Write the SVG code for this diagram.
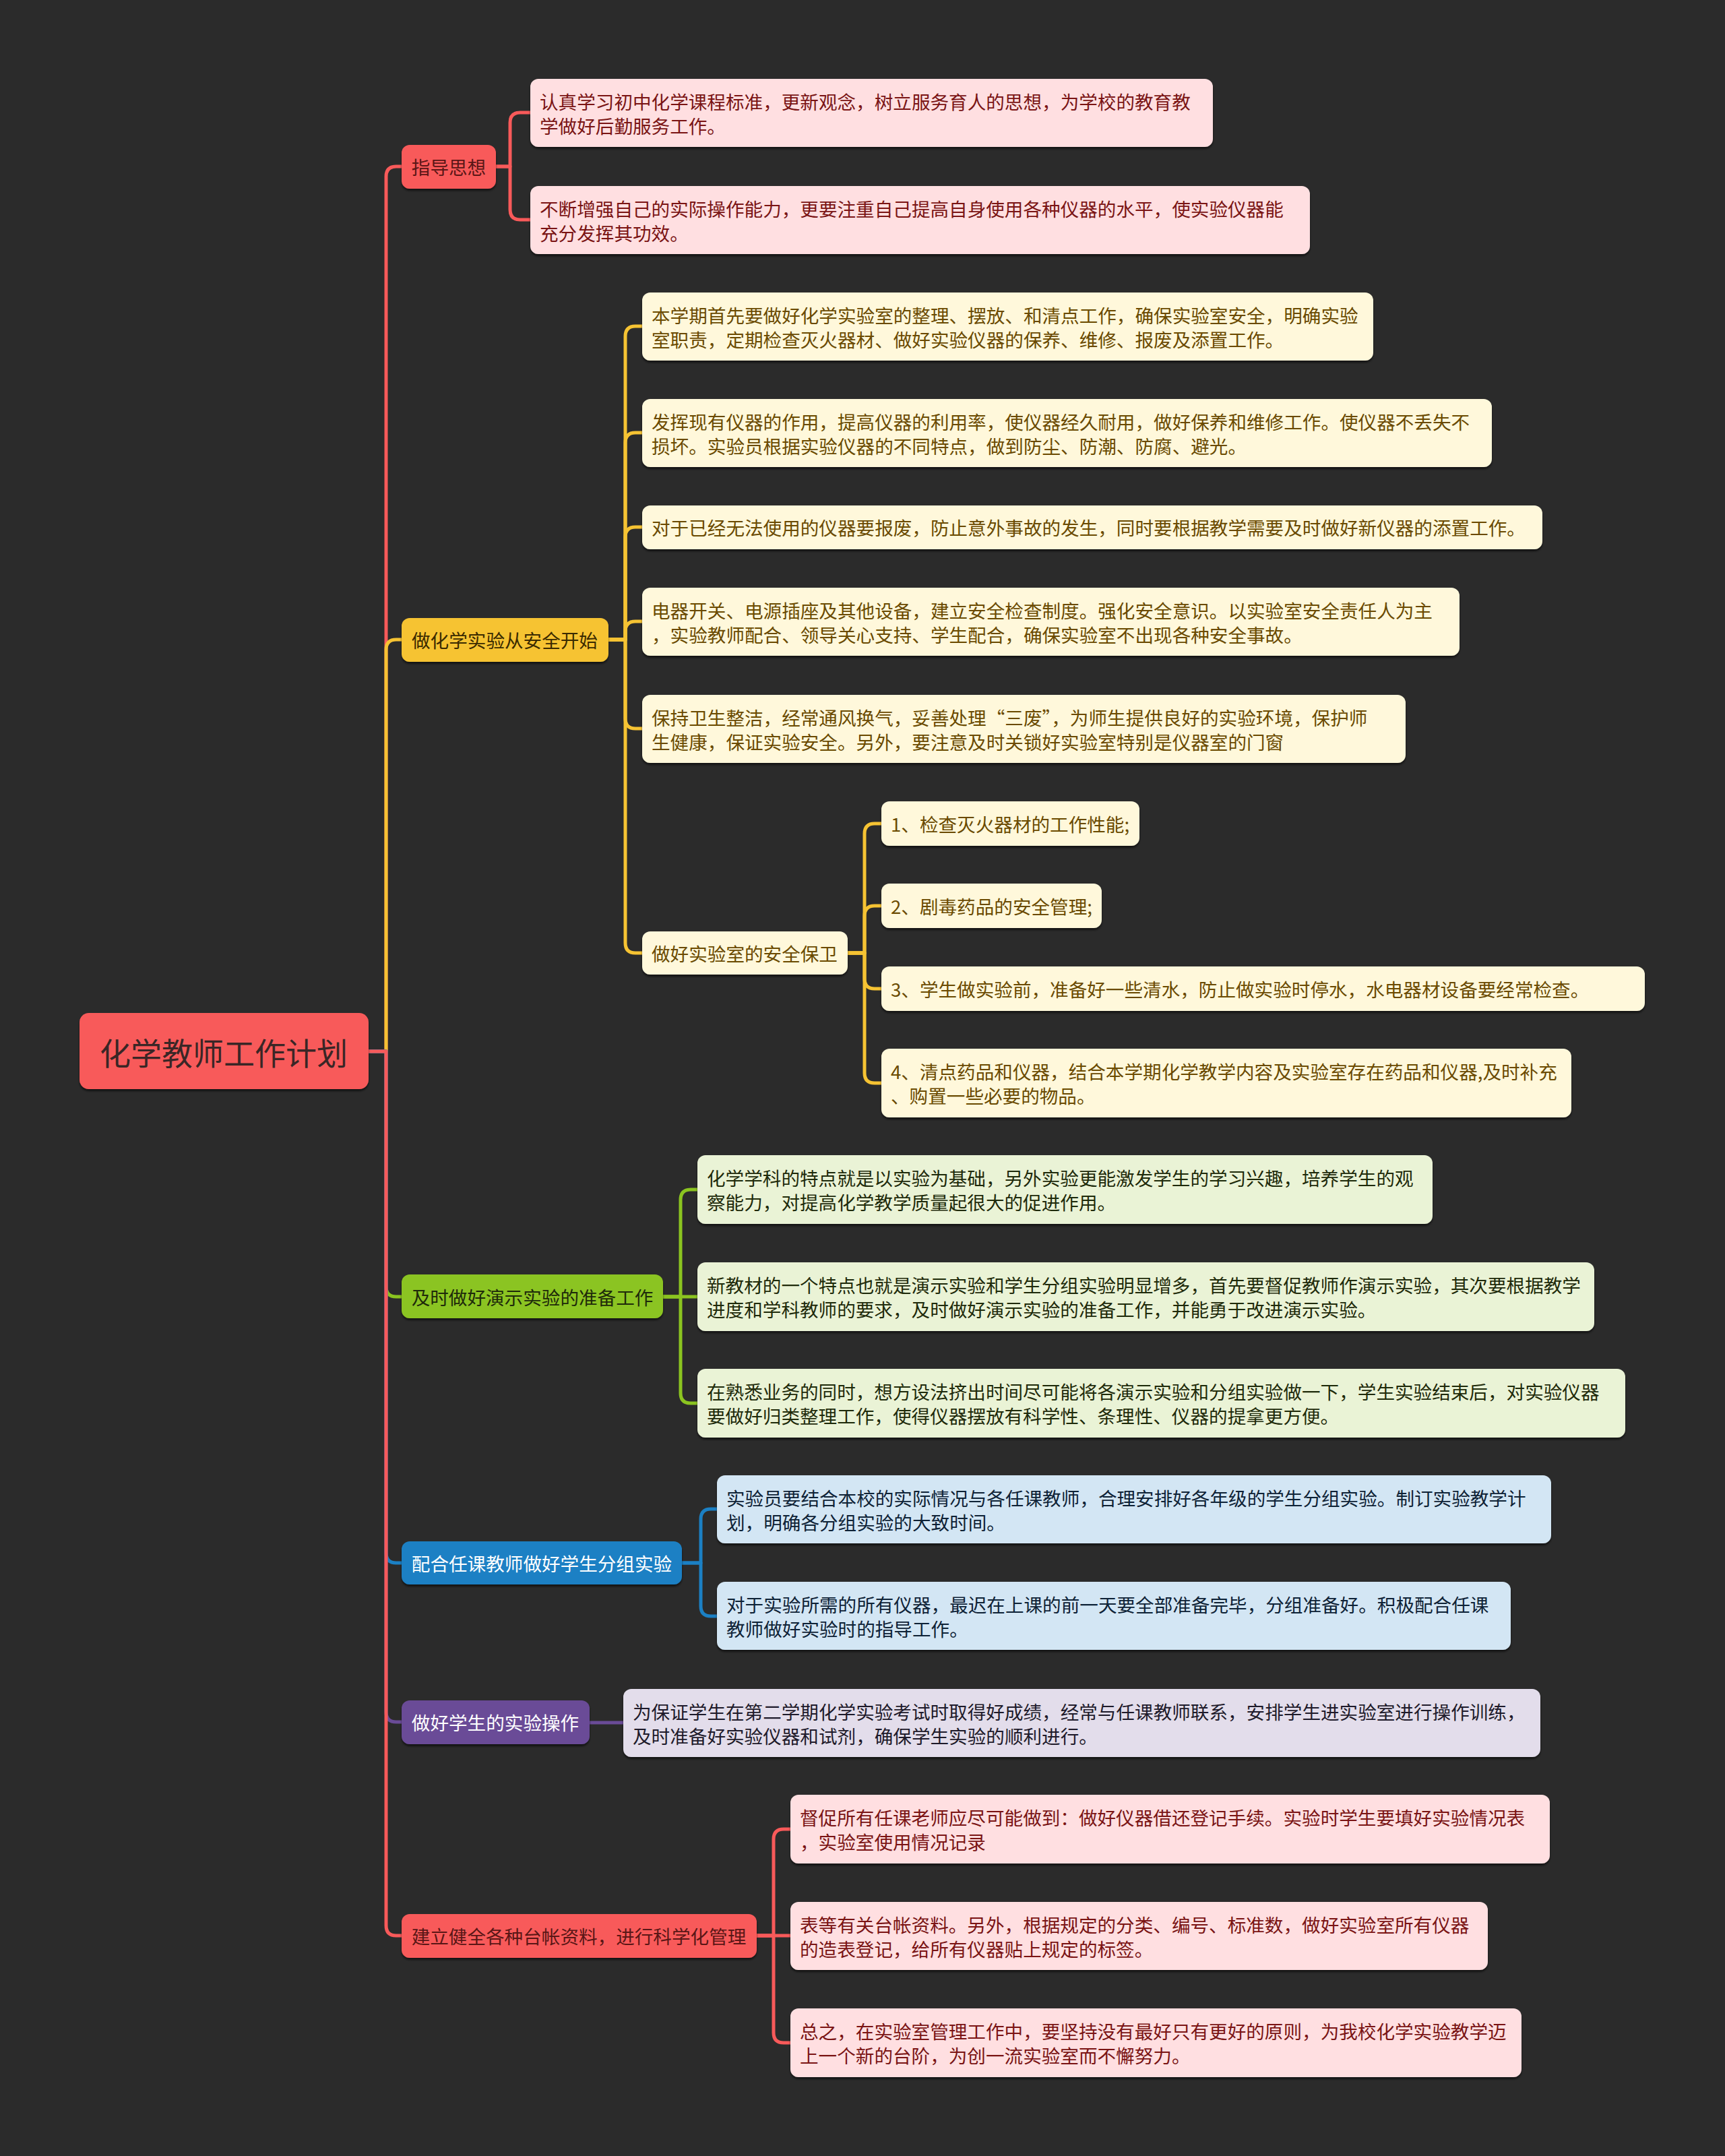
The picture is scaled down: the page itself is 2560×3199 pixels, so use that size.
<svg xmlns="http://www.w3.org/2000/svg" width="2560" height="3199" viewBox="0 0 2560 3199">
<defs>
<style>
text{font-family:"Noto Sans CJK SC","Noto Sans",sans-serif;dominant-baseline:central}
.t{font-size:27.6px}
.rt{font-size:46px;fill:#3a2626}
.l1{font-size:27.6px;text-anchor:middle}
.box{filter:url(#sh)}
.cn{fill:none;stroke-width:5;stroke-linecap:round;stroke-linejoin:round}
.red{stroke:#F85A5A}.yel{stroke:#F6C333}.grn{stroke:#8BC420}.blu{stroke:#1B80C4}.pur{stroke:#6A4B97}
.rF{fill:#F85A5A}.yF{fill:#F6C333}.gF{fill:#8BC420}.bF{fill:#1B80C4}.pF{fill:#6A4B97}
.rC{fill:#FFDFE1}.yC{fill:#FFF8DB}.gC{fill:#EAF3D6}.bC{fill:#D3E6F4}.pC{fill:#E3DDEB}
.rT{fill:#7A1414}.yT{fill:#6A4A00}.gT{fill:#1E2A0A}.bT{fill:#0E2236}.pT{fill:#1E1A2A}
.l1r{fill:#5A1616}.l1y{fill:#3A2A00}.l1g{fill:#1E2A0A}.l1w{fill:#FFFFFF}
</style>
<filter id="sh" x="-5%" y="-10%" width="110%" height="130%">
<feDropShadow dx="0" dy="3" stdDeviation="1.5" flood-color="#000" flood-opacity="0.55"/>
</filter>
</defs>
<rect width="2560" height="3199" fill="#2B2B2B"/>

<g id="connectors">
<path class="cn red" d="M547,1560 H573 V262 Q573,247 588,247 H597"/>
<path class="cn yel" d="M547,1560 H573 V964 Q573,949 588,949 H597"/>
<path class="cn grn" d="M547,1560 H573 V1909 Q573,1924 588,1924 H597"/>
<path class="cn blu" d="M547,1560 H573 V2304 Q573,2319 588,2319 H597"/>
<path class="cn pur" d="M547,1560 H573 V2540 Q573,2555 588,2555 H597"/>
<path class="cn red" d="M547,1560 H573 V2857 Q573,2872 588,2872 H597"/>
<path class="cn red" d="M736,247 H757 V182 Q757,167 772,167 H788"/>
<path class="cn red" d="M736,247 H757 V311 Q757,326 772,326 H788"/>
<path class="cn yel" d="M903,949 H928 V499 Q928,484 943,484 H954"/>
<path class="cn yel" d="M903,949 H928 V657 Q928,642 943,642 H954"/>
<path class="cn yel" d="M903,949 H928 V797 Q928,782 943,782 H954"/>
<path class="cn yel" d="M903,949 H928 V937 Q928,922 943,922 H954"/>
<path class="cn yel" d="M903,949 H928 V1066 Q928,1081 943,1081 H954"/>
<path class="cn yel" d="M903,949 H928 V1399 Q928,1414 943,1414 H954"/>
<path class="cn yel" d="M1258,1414 H1283 V1237 Q1283,1222 1298,1222 H1309"/>
<path class="cn yel" d="M1258,1414 H1283 V1359 Q1283,1344 1298,1344 H1309"/>
<path class="cn yel" d="M1258,1414 H1283 V1452 Q1283,1467 1298,1467 H1309"/>
<path class="cn yel" d="M1258,1414 H1283 V1592 Q1283,1607 1298,1607 H1309"/>
<path class="cn grn" d="M984,1924 H1010 V1780 Q1010,1765 1025,1765 H1036"/>
<path class="cn grn" d="M984,1924 H1036"/>
<path class="cn grn" d="M984,1924 H1010 V2067 Q1010,2082 1025,2082 H1036"/>
<path class="cn blu" d="M1012,2319 H1040 V2254 Q1040,2239 1055,2239 H1065"/>
<path class="cn blu" d="M1012,2319 H1040 V2383 Q1040,2398 1055,2398 H1065"/>
<path class="cn pur" d="M875,2556 H926"/>
<path class="cn red" d="M1123,2872 H1148 V2729 Q1148,2714 1163,2714 H1174"/>
<path class="cn red" d="M1123,2872 H1174"/>
<path class="cn red" d="M1123,2872 H1148 V3016 Q1148,3031 1163,3031 H1174"/>
</g>

<g id="root">
<rect class="box rF" x="118" y="1503" width="429" height="113" rx="14"/>
<text class="rt" x="332" y="1560" text-anchor="middle">化学教师工作计划</text>
</g>

<g id="n1">
<rect class="box rF" x="596" y="215" width="140" height="65" rx="12"/>
<text class="l1 l1r" x="666" y="247">指导思想</text>
</g>
<g id="n1-1">
<rect class="box rC" x="787" y="117" width="1013" height="101" rx="12"/>
<text class="t rT" x="801" y="150">认真学习初中化学课程标准，更新观念，树立服务育人的思想，为学校的教育教</text>
<text class="t rT" x="801" y="186">学做好后勤服务工作。</text>
</g>
<g id="n1-2">
<rect class="box rC" x="787" y="276" width="1157" height="101" rx="12"/>
<text class="t rT" x="801" y="309">不断增强自己的实际操作能力，更要注重自己提高自身使用各种仪器的水平，使实验仪器能</text>
<text class="t rT" x="801" y="345">充分发挥其功效。</text>
</g>

<g id="n2">
<rect class="box yF" x="596" y="917" width="307" height="65" rx="12"/>
<text class="l1 l1y" x="749" y="949">做化学实验从安全开始</text>
</g>
<g id="n2-1">
<rect class="box yC" x="953" y="434" width="1085" height="101" rx="12"/>
<text class="t yT" x="967" y="467">本学期首先要做好化学实验室的整理、摆放、和清点工作，确保实验室安全，明确实验</text>
<text class="t yT" x="967" y="503">室职责，定期检查灭火器材、做好实验仪器的保养、维修、报废及添置工作。</text>
</g>
<g id="n2-2">
<rect class="box yC" x="953" y="592" width="1261" height="101" rx="12"/>
<text class="t yT" x="967" y="625">发挥现有仪器的作用，提高仪器的利用率，使仪器经久耐用，做好保养和维修工作。使仪器不丢失不</text>
<text class="t yT" x="967" y="661">损坏。实验员根据实验仪器的不同特点，做到防尘、防潮、防腐、避光。</text>
</g>
<g id="n2-3">
<rect class="box yC" x="953" y="750" width="1336" height="65" rx="12"/>
<text class="t yT" x="967" y="782">对于已经无法使用的仪器要报废，防止意外事故的发生，同时要根据教学需要及时做好新仪器的添置工作。</text>
</g>
<g id="n2-4">
<rect class="box yC" x="953" y="872" width="1213" height="101" rx="12"/>
<text class="t yT" x="967" y="905">电器开关、电源插座及其他设备，建立安全检查制度。强化安全意识。以实验室安全责任人为主</text>
<text class="t yT" x="967" y="941">，实验教师配合、领导关心支持、学生配合，确保实验室不出现各种安全事故。</text>
</g>
<g id="n2-5">
<rect class="box yC" x="953" y="1031" width="1133" height="101" rx="12"/>
<text class="t yT" x="967" y="1064">保持卫生整洁，经常通风换气，妥善处理“三废”，为师生提供良好的实验环境，保护师</text>
<text class="t yT" x="967" y="1100">生健康，保证实验安全。另外，要注意及时关锁好实验室特别是仪器室的门窗</text>
</g>
<g id="n2-6">
<rect class="box yC" x="953" y="1382" width="305" height="64" rx="12"/>
<text class="t yT" x="967" y="1414">做好实验室的安全保卫</text>
</g>
<g id="n2-6-1">
<rect class="box yC" x="1308" y="1189" width="383" height="66" rx="12"/>
<text class="t yT" x="1322" y="1222">1、检查灭火器材的工作性能;</text>
</g>
<g id="n2-6-2">
<rect class="box yC" x="1308" y="1311" width="327" height="66" rx="12"/>
<text class="t yT" x="1322" y="1344">2、剧毒药品的安全管理;</text>
</g>
<g id="n2-6-3">
<rect class="box yC" x="1308" y="1434" width="1133" height="66" rx="12"/>
<text class="t yT" x="1322" y="1467">3、学生做实验前，准备好一些清水，防止做实验时停水，水电器材设备要经常检查。</text>
</g>
<g id="n2-6-4">
<rect class="box yC" x="1308" y="1556" width="1024" height="102" rx="12"/>
<text class="t yT" x="1322" y="1589">4、清点药品和仪器，结合本学期化学教学内容及实验室存在药品和仪器,及时补充</text>
<text class="t yT" x="1322" y="1625">、购置一些必要的物品。</text>
</g>

<g id="n3">
<rect class="box gF" x="596" y="1891" width="388" height="65" rx="12"/>
<text class="l1 l1g" x="790" y="1924">及时做好演示实验的准备工作</text>
</g>
<g id="n3-1">
<rect class="box gC" x="1035" y="1714" width="1091" height="102" rx="12"/>
<text class="t gT" x="1049" y="1747">化学学科的特点就是以实验为基础，另外实验更能激发学生的学习兴趣，培养学生的观</text>
<text class="t gT" x="1049" y="1783">察能力，对提高化学教学质量起很大的促进作用。</text>
</g>
<g id="n3-2">
<rect class="box gC" x="1035" y="1873" width="1331" height="102" rx="12"/>
<text class="t gT" x="1049" y="1906">新教材的一个特点也就是演示实验和学生分组实验明显增多，首先要督促教师作演示实验，其次要根据教学</text>
<text class="t gT" x="1049" y="1942">进度和学科教师的要求，及时做好演示实验的准备工作，并能勇于改进演示实验。</text>
</g>
<g id="n3-3">
<rect class="box gC" x="1035" y="2031" width="1377" height="102" rx="12"/>
<text class="t gT" x="1049" y="2064">在熟悉业务的同时，想方设法挤出时间尽可能将各演示实验和分组实验做一下，学生实验结束后，对实验仪器</text>
<text class="t gT" x="1049" y="2100">要做好归类整理工作，使得仪器摆放有科学性、条理性、仪器的提拿更方便。</text>
</g>

<g id="n4">
<rect class="box bF" x="596" y="2287" width="416" height="64" rx="12"/>
<text class="l1 l1w" x="804" y="2319">配合任课教师做好学生分组实验</text>
</g>
<g id="n4-1">
<rect class="box bC" x="1064" y="2189" width="1238" height="101" rx="12"/>
<text class="t bT" x="1078" y="2222">实验员要结合本校的实际情况与各任课教师，合理安排好各年级的学生分组实验。制订实验教学计</text>
<text class="t bT" x="1078" y="2258">划，明确各分组实验的大致时间。</text>
</g>
<g id="n4-2">
<rect class="box bC" x="1064" y="2347" width="1178" height="101" rx="12"/>
<text class="t bT" x="1078" y="2380">对于实验所需的所有仪器，最迟在上课的前一天要全部准备完毕，分组准备好。积极配合任课</text>
<text class="t bT" x="1078" y="2416">教师做好实验时的指导工作。</text>
</g>

<g id="n5">
<rect class="box pF" x="596" y="2523" width="279" height="65" rx="12"/>
<text class="l1 l1w" x="735" y="2555">做好学生的实验操作</text>
</g>
<g id="n5-1">
<rect class="box pC" x="925" y="2506" width="1361" height="101" rx="12"/>
<text class="t pT" x="939" y="2539">为保证学生在第二学期化学实验考试时取得好成绩，经常与任课教师联系，安排学生进实验室进行操作训练，</text>
<text class="t pT" x="939" y="2575">及时准备好实验仪器和试剂，确保学生实验的顺利进行。</text>
</g>

<g id="n6">
<rect class="box rF" x="596" y="2840" width="527" height="65" rx="12"/>
<text class="l1 l1r" x="859" y="2872">建立健全各种台帐资料，进行科学化管理</text>
</g>
<g id="n6-1">
<rect class="box rC" x="1173" y="2663" width="1127" height="102" rx="12"/>
<text class="t rT" x="1187" y="2696">督促所有任课老师应尽可能做到：做好仪器借还登记手续。实验时学生要填好实验情况表</text>
<text class="t rT" x="1187" y="2732">，实验室使用情况记录</text>
</g>
<g id="n6-2">
<rect class="box rC" x="1173" y="2822" width="1035" height="101" rx="12"/>
<text class="t rT" x="1187" y="2855">表等有关台帐资料。另外，根据规定的分类、编号、标准数，做好实验室所有仪器</text>
<text class="t rT" x="1187" y="2891">的造表登记，给所有仪器贴上规定的标签。</text>
</g>
<g id="n6-3">
<rect class="box rC" x="1173" y="2980" width="1085" height="102" rx="12"/>
<text class="t rT" x="1187" y="3013">总之，在实验室管理工作中，要坚持没有最好只有更好的原则，为我校化学实验教学迈</text>
<text class="t rT" x="1187" y="3049">上一个新的台阶，为创一流实验室而不懈努力。</text>
</g>
</svg>
